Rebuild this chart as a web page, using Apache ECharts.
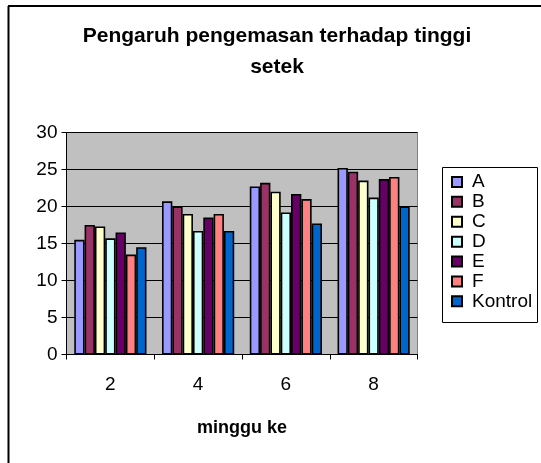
<!DOCTYPE html>
<html>
<head>
<meta charset="utf-8">
<script src="https://cdn.jsdelivr.net/npm/echarts@6/dist/echarts.min.js"></script>
<style>
html,body{margin:0;padding:0;background:#fff;}
#c{width:541px;height:463px;}
</style>
</head>
<body>
<div id="c"></div>
<script>
const categories = ['2', '4', '6', '8'];
const seriesNames = ['A', 'B', 'C', 'D', 'E', 'F', 'Kontrol'];
const valuesA = [15.5, 20.7, 22.7, 25.2];
const valuesB = [17.5, 20.0, 23.2, 24.7];
const valuesC = [17.3, 19.0, 22.0, 23.5];
const valuesD = [15.7, 16.7, 19.2, 21.2];
const valuesE = [16.5, 18.5, 21.7, 23.7];
const valuesF = [13.5, 19.0, 21.0, 24.0];
const valuesKontrol = [14.5, 16.7, 17.7, 20.0];
const colors = ['#9999FF', '#993366', '#FFFFCC', '#CCFFFF', '#660066', '#FF8080', '#0066CC'];
const allValues = [valuesA, valuesB, valuesC, valuesD, valuesE, valuesF, valuesKontrol];

const FONT = '"Liberation Sans", Arial, sans-serif';
const chart = echarts.init(document.getElementById('c'), null, {renderer: 'canvas'});

const series = seriesNames.map((n, i) => ({
  name: n,
  type: 'bar',
  data: allValues[i],
  barGap: '0%',
  barCategoryGap: '17.7%',
  itemStyle: {color: colors[i], borderColor: '#000', borderWidth: 1.6},
  emphasis: {disabled: true}
}));

chart.setOption({
  animation: false,
  textStyle: {fontFamily: FONT},
  title: {
    text: 'Pengaruh pengemasan terhadap tinggi\nsetek',
    left: 272, textAlign: 'center', top: 16,
    textStyle: {fontFamily: FONT, fontSize: 21, fontWeight: 'bold', color: '#000', lineHeight: 31}
  },
  graphic: [
    {type: 'line', shape: {x1: 8.5, y1: 6, x2: 8.5, y2: 463}, style: {stroke: '#000', lineWidth: 2}},
    {type: 'line', shape: {x1: 8, y1: 6, x2: 541, y2: 6}, style: {stroke: '#000', lineWidth: 2}},
    {type: 'rect', shape: {x: 442.5, y: 167.5, width: 95, height: 155}, style: {fill: '#fff', stroke: '#000', lineWidth: 1}, z: -1}
  ],
  legend: {
    orient: 'vertical',
    left: 451, top: 172,
    data: seriesNames,
    itemWidth: 10, itemHeight: 10,
    itemGap: 0,
    padding: 0,
    icon: 'rect',
    textStyle: {fontFamily: FONT, fontSize: 19, color: '#000', lineHeight: 19.9, padding: [0, 0, 0, 5]},
    selectedMode: false
  },
  grid: {
    left: 66.5, right: 123.5, top: 132.5, bottom: 108.5,
    show: true, backgroundColor: '#C0C0C0', borderColor: '#808080', borderWidth: 1
  },
  xAxis: {
    type: 'category',
    data: categories,
    axisLine: {lineStyle: {color: '#000', width: 1}},
    axisTick: {show: true, alignWithLabel: false, length: 5, lineStyle: {color: '#000'}},
    axisLabel: {fontFamily: FONT, fontSize: 19, color: '#000', margin: 21},
    name: 'minggu ke',
    nameLocation: 'middle',
    nameGap: 65,
    nameTextStyle: {fontFamily: FONT, fontSize: 18, fontWeight: 'bold', color: '#000'}
  },
  yAxis: {
    type: 'value',
    min: 0, max: 30, interval: 5,
    axisLine: {show: true, lineStyle: {color: '#000', width: 1}},
    axisTick: {show: true, length: 5, lineStyle: {color: '#000'}},
    axisLabel: {fontFamily: FONT, fontSize: 19, color: '#000', margin: 9},
    splitLine: {show: true, lineStyle: {color: '#000', width: 1}}
  },
  series: series
});
</script>
</body>
</html>
